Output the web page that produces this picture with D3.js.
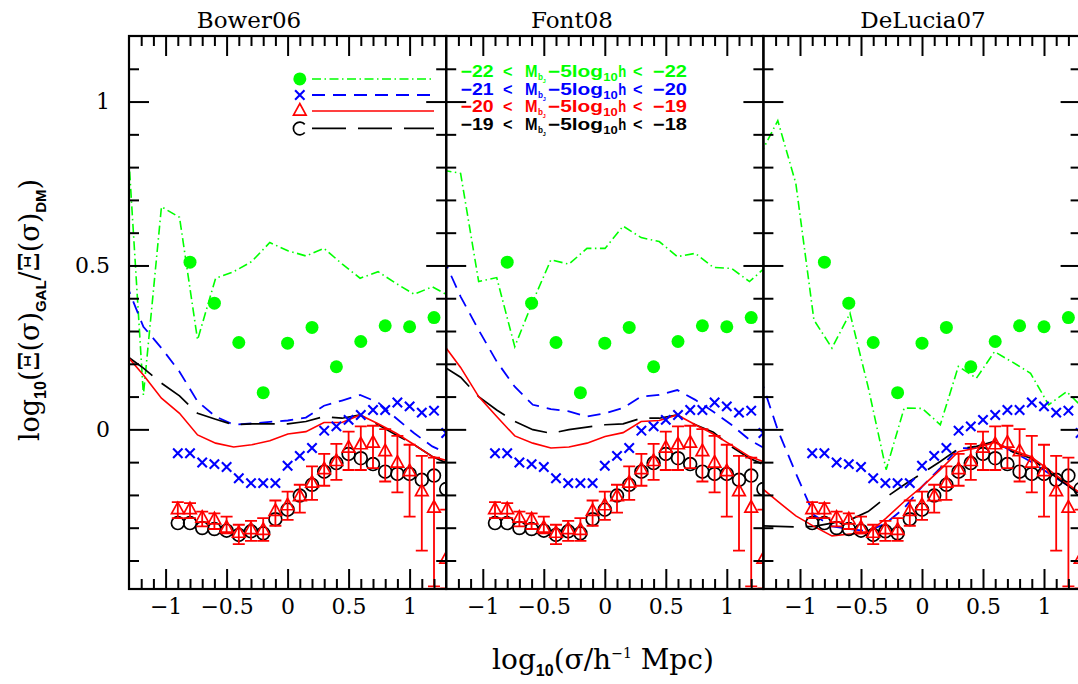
<!DOCTYPE html>
<html><head><meta charset="utf-8">
<script src="https://cdn.jsdelivr.net/npm/d3@7/dist/d3.min.js"></script>
<style>
html,body{margin:0;padding:0;background:#fff;}
svg{display:block;}
</style></head>
<body>
<svg id="chart" width="1078" height="684"></svg>
<script>
// ---------------- DATA ----------------
const panelTitles = ["Bower06", "Font08", "DeLucia07"];
const xTickLabels = [-1, -0.5, 0, 0.5, 1];
const yTickLabels = [0, 0.5, 1];

// observational points (same in all panels)
const obsX = [-0.9,-0.8,-0.7,-0.6,-0.5,-0.4,-0.3,-0.2,-0.1,0,0.1,0.2,0.3,0.4,0.5,0.6,0.7,0.8,0.9,1.0,1.1,1.2,1.3];
const obsBlack = [-0.286,-0.286,-0.301,-0.304,-0.309,-0.322,-0.311,-0.317,-0.274,-0.245,-0.202,-0.169,-0.129,-0.103,-0.075,-0.088,-0.106,-0.129,-0.136,-0.136,-0.154,-0.141,-0.182];
const obsRed = [-0.245,-0.245,-0.271,-0.276,-0.301,-0.317,-0.306,-0.308,-0.250,-0.233,-0.205,-0.164,-0.123,-0.098,-0.057,-0.047,-0.042,-0.068,-0.103,-0.129,-0.190,-0.240,-0.396];
const obsRedHi = [-0.222,-0.225,-0.251,-0.256,-0.266,-0.291,-0.279,-0.271,-0.217,-0.190,-0.169,-0.113,-0.075,-0.044,-0.007,0.009,0.011,0.001,-0.020,-0.047,-0.081,-0.086,-0.245];
const obsRedLo = [-0.271,-0.271,-0.296,-0.304,-0.317,-0.350,-0.340,-0.340,-0.294,-0.276,-0.254,-0.215,-0.172,-0.154,-0.124,-0.124,-0.118,-0.159,-0.192,-0.266,-0.370,-0.479,-0.485];
const obsBlue = [-0.073,-0.073,-0.101,-0.106,-0.115,-0.149,-0.164,-0.164,-0.164,-0.111,-0.081,-0.057,-0.004,0.009,0.029,0.044,0.059,0.059,0.082,0.070,0.051,0.057,-0.011];
const greenX = [-0.8,-0.6,-0.4,-0.2,0,0.2,0.4,0.6,0.8,1.0,1.2];
const obsGreen = [0.510,0.385,0.265,0.112,0.263,0.311,0.191,0.268,0.316,0.313,0.341];

// model curves
const lineX = [-1.33,-1.182,-1.034,-0.886,-0.738,-0.59,-0.442,-0.294,-0.146,0.002,0.15,0.298,0.446,0.594,0.742,0.89,1.038,1.186,1.334];

const bowerGreen = [1.0,0.105,0.679,0.647,0.273,0.461,0.481,0.512,0.570,0.545,0.529,0.552,0.505,0.461,0.481,0.445,0.412,0.435,0.405];
const bowerBlue  = [0.45,0.313,0.248,0.176,0.085,0.039,0.014,0.018,0.023,0.027,0.036,0.072,0.088,0.105,0.082,0.034,-0.012,-0.052,-0.078];
const bowerRed   = [0.23,0.166,0.095,0.049,-0.017,-0.042,-0.054,-0.047,-0.035,-0.014,-0.007,0.021,0.021,0.044,0.017,-0.012,-0.047,-0.083,-0.098];
const bowerBlack = [0.227,0.187,0.141,0.102,0.049,0.031,0.014,0.017,0.017,0.017,0.024,0.039,0.034,0.044,0.014,-0.017,-0.047,-0.083,-0.108];

const fontGreen = [0.791,0.781,0.451,0.463,0.252,0.39,0.517,0.504,0.552,0.552,0.620,0.585,0.573,0.527,0.537,0.494,0.491,0.451,0.50];
const fontBlue  = [0.527,0.405,0.303,0.207,0.130,0.075,0.062,0.055,0.039,0.049,0.065,0.100,0.105,0.120,0.090,0.054,0.014,-0.032,-0.063];
const fontRed   = [0.263,0.189,0.100,0.039,-0.020,-0.042,-0.057,-0.054,-0.042,-0.022,-0.010,0.024,0.027,0.044,0.014,-0.014,-0.048,-0.083,-0.103];
const fontBlack = [0.194,0.159,0.100,0.059,0.024,-0.001,-0.012,-0.001,0.007,0.014,0.017,0.034,0.034,0.044,0.014,-0.009,-0.053,-0.088,-0.113];

const deluciaGreen = [0.835,0.942,0.75,0.334,0.248,0.354,0.13,-0.123,0.065,0.064,0.014,0.192,0.156,0.237,0.205,0.171,0.075,0.115,0.06];
const deluciaBlue  = [0.163,-0.002,-0.134,-0.261,-0.296,-0.304,-0.311,-0.286,-0.240,-0.174,-0.118,-0.057,-0.057,-0.037,-0.068,-0.098,-0.134,-0.169,-0.205];
const deluciaRed   = [-0.174,-0.220,-0.264,-0.296,-0.325,-0.319,-0.317,-0.271,-0.220,-0.174,-0.123,-0.068,-0.057,-0.040,-0.063,-0.083,-0.123,-0.164,-0.205];
const deluciaBlack = [-0.294,-0.296,-0.298,-0.296,-0.286,-0.276,-0.251,-0.207,-0.169,-0.134,-0.098,-0.059,-0.052,-0.037,-0.068,-0.088,-0.129,-0.169,-0.210];

const legendLo = ["−22", "−21", "−20", "−19"];
const legendHi = ["−22", "−20", "−19", "−18"];

// ---------------- LAYOUT / STYLE ----------------
const svg = d3.select("#chart");
svg.append("rect").attr("width",1078).attr("height",684).attr("fill","#fff");

const panelLefts = [129, 446.2, 763.4];
const panelW = 317.2, plotTop = 36, plotBottom = 589;
const y = d3.scaleLinear().domain([-0.487, 1.2]).range([plotBottom, plotTop]);

const COL = {green:"#00ff00", blue:"#0000ff", red:"#ff0000", black:"#000000"};
const serif = "'DejaVu Serif', serif";
const sans = "'Liberation Sans', Arial, sans-serif";

const models = [
  {green:bowerGreen, blue:bowerBlue, red:bowerRed, black:bowerBlack},
  {green:fontGreen, blue:fontBlue, red:fontRed, black:fontBlack},
  {green:deluciaGreen, blue:deluciaBlue, red:deluciaRed, black:deluciaBlack}
];
const styles = {
  green:{dash:"9,3.5,1.5,3.5", w:1.6},
  blue:{dash:"13,8", w:1.8},
  red:{dash:null, w:1.6},
  black:{dash:"34,12", w:1.7}
};

const defs = svg.append("defs");
const triPath = "M0,-7.5L-6.3,4L6.3,4Z";

function drawMarkers(g, x) {
  g.selectAll(".gdot").data(greenX).enter().append("circle")
    .attr("cx", (d)=>x(d)).attr("cy", (d,i)=>y(obsGreen[i]))
    .attr("r", 6.5).attr("fill", COL.green);
  const s = 4.7;
  g.selectAll(".bx").data(obsX).enter().append("path")
    .attr("d", (d,i)=>{const cx=x(d), cy=y(obsBlue[i]);
      return `M${cx-s},${cy-s}L${cx+s},${cy+s}M${cx-s},${cy+s}L${cx+s},${cy-s}`;})
    .attr("stroke", COL.blue).attr("stroke-width", 2.1).attr("fill","none");
  g.selectAll(".kc").data(obsX).enter().append("circle")
    .attr("cx", (d)=>x(d)).attr("cy", (d,i)=>y(obsBlack[i]))
    .attr("r", 6.4).attr("fill","none").attr("stroke", COL.black).attr("stroke-width", 1.7);
  g.selectAll(".eb").data(obsX).enter().append("path")
    .attr("d", (d,i)=>{const cx=x(d), y1=y(obsRedHi[i]), y2=y(obsRedLo[i]);
      return `M${cx},${y1}L${cx},${y2}M${cx-6},${y1}L${cx+6},${y1}M${cx-6},${y2}L${cx+6},${y2}`;})
    .attr("stroke", COL.red).attr("stroke-width", 1.8).attr("fill","none");
  g.selectAll(".tri").data(obsX).enter().append("path")
    .attr("d", triPath)
    .attr("transform", (d,i)=>`translate(${x(d)},${y(obsRed[i])})`)
    .attr("fill","none").attr("stroke", COL.red).attr("stroke-width", 1.7);
}

panelTitles.forEach((title, p) => {
  const x0 = panelLefts[p];
  const x = d3.scaleLinear().domain([-1.3, 1.3]).range([x0, x0 + panelW]);
  const g = svg.append("g");
  g.append("rect").attr("x", x0).attr("y", plotTop).attr("width", panelW).attr("height", plotBottom-plotTop).attr("fill","#fff");

  defs.append("clipPath").attr("id","clip"+p).append("rect")
    .attr("x", x0).attr("y", plotTop).attr("width", panelW).attr("height", plotBottom-plotTop);

  const lg = g.append("g").attr("clip-path", `url(#clip${p})`);
  const line = d3.line().x((d)=>x(d[0])).y((d)=>y(d[1]));
  ["green","blue","black","red"].forEach(k => {
    const pts = lineX.map((xx,i)=>[xx, models[p][k][i]]);
    lg.append("path").attr("d", line(pts)).attr("fill","none")
      .attr("stroke", COL[k]).attr("stroke-width", styles[k].w)
      .attr("stroke-dasharray", styles[k].dash);
  });

  drawMarkers(g, x);

  svg.append("text").attr("class","title")
    .attr("x", [249, 572, 923][p]).attr("y", 28)
    .attr("text-anchor","middle").attr("font-family", serif).attr("font-size", 23)
    .text(title);
});

panelTitles.forEach((title, p) => {
  const x0 = panelLefts[p];
  const x = d3.scaleLinear().domain([-1.3, 1.3]).range([x0, x0 + panelW]);
  const minorX = d3.range(-12, 13).map(v=>v/10).filter(v=>Math.abs(v*2-Math.round(v*2))>1e-6);
  const minorY = d3.range(-4, 12).map(v=>v/10).filter(v=>Math.abs(v*2-Math.round(v*2))>1e-6);
  const fmt = d3.format("~g");
  const style = (sel)=>{ sel.select(".domain").remove(); sel.selectAll("line").attr("stroke","#000").attr("stroke-width",2); };

  svg.append("g").attr("transform",`translate(0,${plotBottom})`)
    .call(d3.axisBottom(x).tickValues(minorX).tickSize(-10).tickSizeOuter(0).tickFormat("")).call(style);
  svg.append("g").attr("transform",`translate(0,${plotBottom})`)
    .call(d3.axisBottom(x).tickValues(xTickLabels).tickSize(-20).tickSizeOuter(0).tickPadding(9).tickFormat(fmt))
    .call(style)
    .call(s=>s.selectAll("text").attr("font-family", serif).attr("font-size", 22).attr("fill","#000"));
  svg.append("g").attr("transform",`translate(0,${plotTop})`)
    .call(d3.axisTop(x).tickValues(minorX).tickSize(-10).tickSizeOuter(0).tickFormat("")).call(style);
  svg.append("g").attr("transform",`translate(0,${plotTop})`)
    .call(d3.axisTop(x).tickValues(xTickLabels).tickSize(-20).tickSizeOuter(0).tickFormat("")).call(style);
  svg.append("g").attr("transform",`translate(${x0},0)`)
    .call(d3.axisLeft(y).tickValues(minorY).tickSize(-10).tickSizeOuter(0).tickFormat("")).call(style);
  const la = svg.append("g").attr("transform",`translate(${x0},0)`)
    .call(d3.axisLeft(y).tickValues(yTickLabels).tickSize(-20).tickSizeOuter(0).tickPadding(19).tickFormat(p===0?fmt:""))
    .call(style);
  la.selectAll("text").attr("font-family", serif).attr("font-size", 22).attr("fill","#000");
  svg.append("g").attr("transform",`translate(${x0+panelW},0)`)
    .call(d3.axisRight(y).tickValues(minorY).tickSize(-10).tickSizeOuter(0).tickFormat("")).call(style);
  svg.append("g").attr("transform",`translate(${x0+panelW},0)`)
    .call(d3.axisRight(y).tickValues(yTickLabels).tickSize(-20).tickSizeOuter(0).tickFormat("")).call(style);

  svg.append("rect").attr("x", x0).attr("y", plotTop).attr("width", panelW).attr("height", plotBottom-plotTop)
    .attr("fill","none").attr("stroke","#000").attr("stroke-width",2.2);
});

// ---------------- LEGEND ----------------
const x1 = d3.scaleLinear().domain([-1.3, 1.3]).range([panelLefts[0], panelLefts[0]+panelW]);
const legY = [1.069, 1.020, 0.971, 0.918];
const legKeys = ["green","blue","red","black"];
const lgd = svg.append("g");
legKeys.forEach((k,i)=>{
  const cy = y(legY[i]), cx = x1(0.1);
  lgd.append("line").attr("x1", x1(0.2)).attr("x2", x1(1.2)).attr("y1", cy).attr("y2", cy)
    .attr("stroke", COL[k]).attr("stroke-width", styles[k].w).attr("stroke-dasharray", styles[k].dash);
  if (k==="green") lgd.append("circle").attr("cx",cx).attr("cy",cy).attr("r",6.5).attr("fill",COL.green);
  if (k==="blue") { const s=4.7; lgd.append("path").attr("d",`M${cx-s},${cy-s}L${cx+s},${cy+s}M${cx-s},${cy+s}L${cx+s},${cy-s}`).attr("stroke",COL.blue).attr("stroke-width",2.1); }
  if (k==="red") lgd.append("path").attr("d",triPath).attr("transform",`translate(${cx},${cy})`).attr("fill","none").attr("stroke",COL.red).attr("stroke-width",1.7);
  if (k==="black") lgd.append("path")
    .attr("d", d3.arc()({innerRadius:6.4, outerRadius:6.4, startAngle:Math.PI*0.72, endAngle:Math.PI*2.28}))
    .attr("transform",`translate(${cx},${cy})`)
    .attr("fill","none").attr("stroke","#000").attr("stroke-width",1.7);
});

const legBase = [77, 94.5, 111.5, 129.5];
const tx0 = 460.7;
legKeys.forEach((k,i)=>{
  const g = svg.append("g").attr("fill", COL[k]).attr("font-family", sans).attr("font-weight","bold");
  const b = legBase[i];
  const piece = (str, dx, w, fs, dy) => {
    const t = g.append("text").attr("x", tx0+dx).attr("y", b+(dy||0)).attr("font-size", fs).text(str);
    if (w) t.attr("textLength", w).attr("lengthAdjust","spacingAndGlyphs");
  };
  piece(legendLo[i], 0, 33, 16.5);
  piece("<", 42.3, 9.5, 16.5);
  piece("M", 64.3, 12.5, 16.5);
  piece("b", 77.3, 5, 9, 3);
  piece("J", 82, 3, 6, 6);
  piece("−5log", 87.3, 55, 16.5);
  piece("10", 142.5, 14.5, 11, 4);
  piece("h", 157.5, 8, 16.5);
  piece("<", 172.3, 9.5, 16.5);
  piece(legendHi[i], 192.3, 34, 16.5);
});

// ---------------- AXIS TITLES ----------------
const yl = svg.append("text").attr("transform","translate(39,310) rotate(-90)")
  .attr("text-anchor","middle").attr("font-family", serif).attr("font-size", 27).attr("fill","#000");
yl.append("tspan").text("log");
yl.append("tspan").attr("dy", 7).attr("font-size", 16).attr("font-family", sans).attr("font-weight","bold").text("10");
yl.append("tspan").attr("dy", -7).text("(Ξ(σ)");
yl.append("tspan").attr("dy", 7).attr("font-size", 15).attr("font-family", sans).attr("font-weight","bold").text("GAL");
yl.append("tspan").attr("dy", -7).text("/Ξ(σ)");
yl.append("tspan").attr("dy", 7).attr("font-size", 15).attr("font-family", sans).attr("font-weight","bold").text("DM");
yl.append("tspan").attr("dy", -7).text(")");

const xl = svg.append("text").attr("x", 603).attr("y", 669)
  .attr("text-anchor","middle").attr("font-family", serif).attr("font-size", 28).attr("fill","#000");
xl.append("tspan").text("log");
xl.append("tspan").attr("dy", 7).attr("font-size", 16).attr("font-family", sans).attr("font-weight","bold").text("10");
xl.append("tspan").attr("dy", -7).text("(σ/h");
xl.append("tspan").attr("dy", -11).attr("font-size", 14).text("−1");
xl.append("tspan").attr("dy", 11).text(" Mpc)");
</script>
</body></html>
